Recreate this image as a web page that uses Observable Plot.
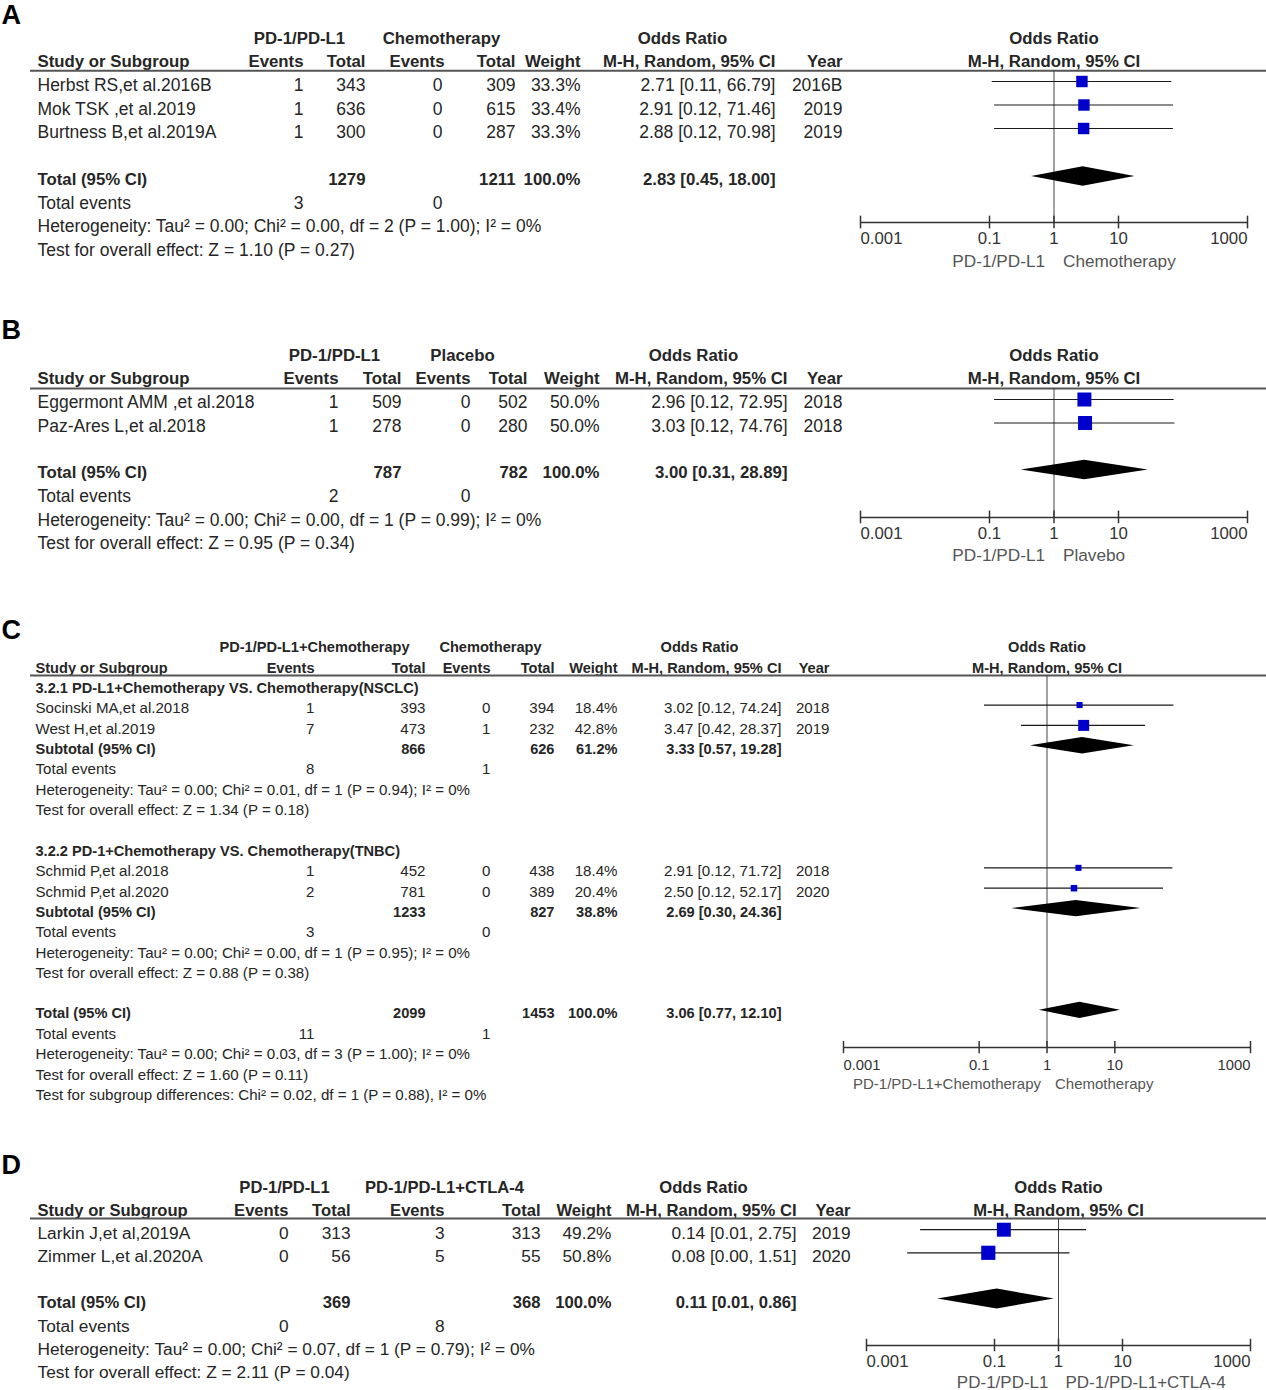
<!DOCTYPE html>
<html>
<head>
<meta charset="utf-8">
<script src="https://cdn.jsdelivr.net/npm/d3@7"></script>
<script src="https://cdn.jsdelivr.net/npm/@observablehq/plot@0.6"></script>
<style>
  html, body { margin: 0; padding: 0; background: #fff; }
  #chart { width: 1266px; }
  #chart svg { display: block; overflow: visible; }
</style>
</head>
<body>
<div id="chart"></div>
<script>
// ---------------- DATA ----------------
const ticks = [0.001, 0.1, 1, 10, 1000];
const tickLabels = ["0.001", "0.1", "1", "10", "1000"];
const colHeaders = ["Study or Subgroup", "Events", "Total", "Events", "Total", "Weight", "M-H, Random, 95% CI", "Year"];
const orHeader = ["Odds Ratio", "M-H, Random, 95% CI"];

// Panel A
const A_groups = ["PD-1/PD-L1", "Chemotherapy"];
const A_favours = ["PD-1/PD-L1", "Chemotherapy"];
const A_study = ["Herbst RS,et al.2016B", "Mok TSK ,et al.2019", "Burtness B,et al.2019A"];
const A_ev1 = [1, 1, 1];
const A_n1 = [343, 636, 300];
const A_ev2 = [0, 0, 0];
const A_n2 = [309, 615, 287];
const A_weight = [33.3, 33.4, 33.3];
const A_or = [2.71, 2.91, 2.88];
const A_lo = [0.11, 0.12, 0.12];
const A_hi = [66.79, 71.46, 70.98];
const A_year = ["2016B", "2019", "2019"];
const A_totalN = [1279, 1211];
const A_totalEvents = [3, 0];
const A_pooled = [2.83, 0.45, 18.00];
const A_stats = ["Heterogeneity: Tau\u00b2 = 0.00; Chi\u00b2 = 0.00, df = 2 (P = 1.00); I\u00b2 = 0%",
                 "Test for overall effect: Z = 1.10 (P = 0.27)"];

// Panel B
const B_groups = ["PD-1/PD-L1", "Placebo"];
const B_favours = ["PD-1/PD-L1", "Plavebo"];
const B_study = ["Eggermont AMM ,et al.2018", "Paz-Ares L,et al.2018"];
const B_ev1 = [1, 1];
const B_n1 = [509, 278];
const B_ev2 = [0, 0];
const B_n2 = [502, 280];
const B_weight = [50.0, 50.0];
const B_or = [2.96, 3.03];
const B_lo = [0.12, 0.12];
const B_hi = [72.95, 74.76];
const B_year = ["2018", "2018"];
const B_totalN = [787, 782];
const B_totalEvents = [2, 0];
const B_pooled = [3.00, 0.31, 28.89];
const B_stats = ["Heterogeneity: Tau\u00b2 = 0.00; Chi\u00b2 = 0.00, df = 1 (P = 0.99); I\u00b2 = 0%",
                 "Test for overall effect: Z = 0.95 (P = 0.34)"];

// Panel C
const C_groups = ["PD-1/PD-L1+Chemotherapy", "Chemotherapy"];
const C_favours = ["PD-1/PD-L1+Chemotherapy", "Chemotherapy"];
const C_subgroups = ["3.2.1 PD-L1+Chemotherapy VS. Chemotherapy(NSCLC)", "3.2.2 PD-1+Chemotherapy VS. Chemotherapy(TNBC)"];
const C1_study = ["Socinski MA,et al.2018", "West H,et al.2019"];
const C1_ev1 = [1, 7];
const C1_n1 = [393, 473];
const C1_ev2 = [0, 1];
const C1_n2 = [394, 232];
const C1_weight = [18.4, 42.8];
const C1_or = [3.02, 3.47];
const C1_lo = [0.12, 0.42];
const C1_hi = [74.24, 28.37];
const C1_year = ["2018", "2019"];
const C1_subN = [866, 626];
const C1_subWeight = 61.2;
const C1_subEvents = [8, 1];
const C1_pooled = [3.33, 0.57, 19.28];
const C1_stats = ["Heterogeneity: Tau\u00b2 = 0.00; Chi\u00b2 = 0.01, df = 1 (P = 0.94); I\u00b2 = 0%",
                  "Test for overall effect: Z = 1.34 (P = 0.18)"];
const C2_study = ["Schmid P,et al.2018", "Schmid P,et al.2020"];
const C2_ev1 = [1, 2];
const C2_n1 = [452, 781];
const C2_ev2 = [0, 0];
const C2_n2 = [438, 389];
const C2_weight = [18.4, 20.4];
const C2_or = [2.91, 2.50];
const C2_lo = [0.12, 0.12];
const C2_hi = [71.72, 52.17];
const C2_year = ["2018", "2020"];
const C2_subN = [1233, 827];
const C2_subWeight = 38.8;
const C2_subEvents = [3, 0];
const C2_pooled = [2.69, 0.30, 24.36];
const C2_stats = ["Heterogeneity: Tau\u00b2 = 0.00; Chi\u00b2 = 0.00, df = 1 (P = 0.95); I\u00b2 = 0%",
                  "Test for overall effect: Z = 0.88 (P = 0.38)"];
const C_totalN = [2099, 1453];
const C_totalEvents = [11, 1];
const C_pooled = [3.06, 0.77, 12.10];
const C_stats = ["Heterogeneity: Tau\u00b2 = 0.00; Chi\u00b2 = 0.03, df = 3 (P = 1.00); I\u00b2 = 0%",
                 "Test for overall effect: Z = 1.60 (P = 0.11)",
                 "Test for subgroup differences: Chi\u00b2 = 0.02, df = 1 (P = 0.88), I\u00b2 = 0%"];

// Panel D
const D_groups = ["PD-1/PD-L1", "PD-1/PD-L1+CTLA-4"];
const D_favours = ["PD-1/PD-L1", "PD-1/PD-L1+CTLA-4"];
const D_study = ["Larkin J,et al,2019A", "Zimmer L,et al.2020A"];
const D_ev1 = [0, 0];
const D_n1 = [313, 56];
const D_ev2 = [3, 5];
const D_n2 = [313, 55];
const D_weight = [49.2, 50.8];
const D_or = [0.14, 0.08];
const D_lo = [0.01, 0.00];        // as printed
const D_loDrawn = [0.007, 0.0044]; // as drawn (unrounded)
const D_hi = [2.75, 1.51];
const D_year = ["2019", "2020"];
const D_totalN = [369, 368];
const D_totalEvents = [0, 8];
const D_pooled = [0.11, 0.01, 0.86];
const D_pooledLoDrawn = 0.013;
const D_stats = ["Heterogeneity: Tau\u00b2 = 0.00; Chi\u00b2 = 0.07, df = 1 (P = 0.79); I\u00b2 = 0%",
                 "Test for overall effect: Z = 2.11 (P = 0.04)"];

// ---------------- HELPERS ----------------
const FONT = "'Liberation Sans', Arial, Helvetica, sans-serif";
const fmtCI = (o, l, h) => `${o.toFixed(2)} [${l.toFixed(2)}, ${h.toFixed(2)}]`;
const pct = w => `${w.toFixed(1)}%`;

function studyRows(start, names, ev1, n1, ev2, n2, w, or, lo, hi, yr) {
  return names.map((name, i) => ({
    row: start + i, name, e1: String(ev1[i]), n1: String(n1[i]), e2: String(ev2[i]), n2: String(n2[i]),
    w: pct(w[i]), ci: fmtCI(or[i], lo[i], hi[i]), yr: yr[i], bold: false
  }));
}
function forestStudies(start, or, lo, hi, w) {
  return or.map((o, i) => ({row: start + i, or: o, lo: lo[i], hi: hi[i], w: w[i]}));
}
function summaryRows(row, label, n, w, pooled) {
  return {row, name: label, n1: String(n[0]), n2: String(n[1]), w: pct(w),
          ci: fmtCI(pooled[0], pooled[1], pooled[2]), bold: true};
}
function eventRow(row, ev) {
  return {row, name: "Total events", e1: String(ev[0]), e2: String(ev[1]), bold: false};
}

function buildPanel(P) {
  const L = P.layout;
  const ink = "#262626";
  const marks = [];
  // panel letter
  marks.push(Plot.text([P.letter], {text: d => d, y: L.letterRow, frameAnchor: "left", textAnchor: "start",
    dx: 1, fontSize: 27, fontWeight: "bold", fill: "#000"}));
  // header row 0: group labels + "Odds Ratio"
  const h0 = [[P.groups[0], L.groupX[0]], [P.groups[1], L.groupX[1]], [orHeader[0], L.orHeadX]];
  for (const [t, x] of h0) {
    marks.push(Plot.text([t], {text: d => d, y: 0, frameAnchor: "left", dx: x, textAnchor: "middle",
      fontSize: L.fsBold, fontWeight: "bold", fill: ink}));
  }
  // header row 1: column headers
  marks.push(Plot.text([colHeaders[0]], {text: d => d, y: 1, frameAnchor: "left", dx: L.nameX, textAnchor: "start",
    fontSize: L.fsBold, fontWeight: "bold", fill: ink}));
  L.cols.forEach((c, i) => {
    marks.push(Plot.text([colHeaders[i + 1]], {text: d => d, y: 1, frameAnchor: "left", dx: c.hx ?? c.x, textAnchor: "end",
      fontSize: L.fsBold, fontWeight: "bold", fill: ink}));
  });
  // forest headers centred on OR = 1
  orHeader.forEach((t, i) => {
    marks.push(Plot.text([t], {text: d => d, x: 1, y: i, textAnchor: "middle",
      fontSize: L.fsBold, fontWeight: "bold", fill: ink}));
  });
  // table body
  const colsAll = [{key: "name", x: L.nameX, anchor: "start"}, ...L.cols.map(c => ({...c, anchor: "end"}))];
  for (const c of colsAll) {
    for (const bold of [false, true]) {
      const data = P.rows.filter(r => r[c.key] != null && !!r.bold === bold);
      if (!data.length) continue;
      marks.push(Plot.text(data, {y: "row", text: c.key, frameAnchor: "left", dx: c.x, textAnchor: c.anchor,
        fontSize: bold ? L.fsBold : L.fs, fontWeight: bold ? "bold" : "normal", fill: ink}));
    }
  }
  // separator line under header
  marks.push(Plot.ruleY([L.lineRow], {insetLeft: 30, stroke: "#555", strokeWidth: 2}));
  // line of no effect
  marks.push(Plot.ruleX([1], {y1: L.lineRow, y2: L.axisRow, stroke: "#444", strokeWidth: 1}));
  // CI lines
  marks.push(Plot.ruleY(P.studies, {y: "row", x1: "lo", x2: "hi", dy: L.markDy, stroke: "#1a1a1a", strokeWidth: 1.2}));
  // squares
  marks.push(Plot.dot(P.studies, {x: "or", y: "row", r: "w", symbol: "square", fill: "#0000cc", dy: L.markDy}));
  // diamonds
  const dia = P.summaries.flatMap((s, i) => [
    {id: i, x: s.lo, y1: s.row, y2: s.row},
    {id: i, x: s.or, y1: s.row - L.dh, y2: s.row + L.dh},
    {id: i, x: s.hi, y1: s.row, y2: s.row}
  ]);
  marks.push(Plot.areaY(dia, {x: "x", y1: "y1", y2: "y2", z: "id", fill: "#000", curve: "linear", dy: L.diaDy}));
  // axis
  marks.push(Plot.ruleY([L.axisRow], {x1: ticks[0], x2: ticks[ticks.length - 1], stroke: "#333", strokeWidth: 1.5}));
  marks.push(Plot.ruleX(ticks, {x: d => d, y1: L.axisRow - L.tickH, y2: L.axisRow + L.tickH, stroke: "#333", strokeWidth: 1.5}));
  const tl = ticks.map((t, i) => ({t, label: tickLabels[i],
    pos: i === 0 ? "start" : i === ticks.length - 1 ? "end" : "middle"}));
  for (const a of ["start", "middle", "end"]) {
    marks.push(Plot.text(tl.filter(d => d.pos === a), {x: "t", y: L.axisRow, text: "label", textAnchor: a,
      dy: L.tickDy, fontSize: L.fsTick, fill: "#333"}));
  }
  marks.push(Plot.text([P.favours[0]], {text: d => d, x: 1, y: L.axisRow, textAnchor: "end", dx: L.favDx[0],
    dy: L.favDy, fontSize: L.fsFav, fill: "#555"}));
  marks.push(Plot.text([P.favours[1]], {text: d => d, x: 1, y: L.axisRow, textAnchor: "start", dx: L.favDx[1],
    dy: L.favDy, fontSize: L.fsFav, fill: "#555"}));

  return Plot.plot({
    width: 1266, height: L.height, margin: 0,
    x: {type: "log", domain: [ticks[0], ticks[ticks.length - 1]], range: L.xRange, axis: null},
    y: {type: "linear", domain: [0, 1], range: [L.y0, L.y0 + L.step], axis: null},
    r: L.rScale,
    style: {fontFamily: FONT, background: "#fff", overflow: "visible"},
    marks
  });
}

// ---------------- PANELS ----------------
const panelA = {
  letter: "A", groups: A_groups, favours: A_favours,
  rows: [
    ...studyRows(2, A_study, A_ev1, A_n1, A_ev2, A_n2, A_weight, A_or, A_lo, A_hi, A_year),
    summaryRows(6, "Total (95% CI)", A_totalN, 100.0, A_pooled),
    eventRow(7, A_totalEvents),
    {row: 8, name: A_stats[0]}, {row: 9, name: A_stats[1]}
  ],
  studies: forestStudies(2, A_or, A_lo, A_hi, A_weight),
  summaries: [{row: 6, or: A_pooled[0], lo: A_pooled[1], hi: A_pooled[2]}],
  layout: {
    height: 300, y0: 38, step: 23.5, letterRow: -0.98, lineRow: 1.37, axisRow: 7.83,
    nameX: 37, groupX: [299, 441], orHeadX: 682,
    cols: [{key: "e1", x: 303}, {key: "n1", x: 365}, {key: "e2", x: 442, hx: 444}, {key: "n2", x: 515},
           {key: "w", x: 580}, {key: "ci", x: 775}, {key: "yr", x: 842}],
    fs: 17.5, fsBold: 16.8, fsTick: 16.8, fsFav: 17.2,
    xRange: [860, 1247], markDy: -4, diaDy: -3, dh: 0.42, tickH: 0.27, tickDy: 16, favDy: 39, favDx: [-9, 9],
    rScale: {type: "sqrt", domain: [0, 50], range: [0, 7.9]}
  }
};

const panelB = {
  letter: "B", groups: B_groups, favours: B_favours,
  rows: [
    ...studyRows(2, B_study, B_ev1, B_n1, B_ev2, B_n2, B_weight, B_or, B_lo, B_hi, B_year),
    summaryRows(5, "Total (95% CI)", B_totalN, 100.0, B_pooled),
    eventRow(6, B_totalEvents),
    {row: 7, name: B_stats[0]}, {row: 8, name: B_stats[1]}
  ],
  studies: forestStudies(2, B_or, B_lo, B_hi, B_weight),
  summaries: [{row: 5, or: B_pooled[0], lo: B_pooled[1], hi: B_pooled[2]}],
  layout: {
    height: 300, y0: 55, step: 23.5, letterRow: -1.06, lineRow: 1.4, axisRow: 6.89,
    nameX: 37, groupX: [334, 462], orHeadX: 693,
    cols: [{key: "e1", x: 338}, {key: "n1", x: 401}, {key: "e2", x: 470}, {key: "n2", x: 527},
           {key: "w", x: 599}, {key: "ci", x: 787}, {key: "yr", x: 842}],
    fs: 17.5, fsBold: 16.8, fsTick: 16.8, fsFav: 17.2,
    xRange: [860, 1247], markDy: -3, diaDy: -3, dh: 0.42, tickH: 0.27, tickDy: 16, favDy: 38, favDx: [-9, 9],
    rScale: {type: "sqrt", domain: [0, 50], range: [0, 7.9]}
  }
};

const panelC = {
  letter: "C", groups: C_groups, favours: C_favours,
  rows: [
    {row: 2, name: C_subgroups[0], bold: true},
    ...studyRows(3, C1_study, C1_ev1, C1_n1, C1_ev2, C1_n2, C1_weight, C1_or, C1_lo, C1_hi, C1_year),
    summaryRows(5, "Subtotal (95% CI)", C1_subN, C1_subWeight, C1_pooled),
    eventRow(6, C1_subEvents),
    {row: 7, name: C1_stats[0]}, {row: 8, name: C1_stats[1]},
    {row: 10, name: C_subgroups[1], bold: true},
    ...studyRows(11, C2_study, C2_ev1, C2_n1, C2_ev2, C2_n2, C2_weight, C2_or, C2_lo, C2_hi, C2_year),
    summaryRows(13, "Subtotal (95% CI)", C2_subN, C2_subWeight, C2_pooled),
    eventRow(14, C2_subEvents),
    {row: 15, name: C2_stats[0]}, {row: 16, name: C2_stats[1]},
    summaryRows(18, "Total (95% CI)", C_totalN, 100.0, C_pooled),
    eventRow(19, C_totalEvents),
    {row: 20, name: C_stats[0]}, {row: 21, name: C_stats[1]}, {row: 22, name: C_stats[2]}
  ],
  studies: [...forestStudies(3, C1_or, C1_lo, C1_hi, C1_weight), ...forestStudies(11, C2_or, C2_lo, C2_hi, C2_weight)],
  summaries: [
    {row: 5, or: C1_pooled[0], lo: C1_pooled[1], hi: C1_pooled[2]},
    {row: 13, or: C2_pooled[0], lo: C2_pooled[1], hi: C2_pooled[2]},
    {row: 18, or: C_pooled[0], lo: C_pooled[1], hi: C_pooled[2]}
  ],
  layout: {
    height: 540, y0: 47, step: 20.35, letterRow: -0.84, lineRow: 1.38, axisRow: 19.66,
    nameX: 35, groupX: [314, 490], orHeadX: 699,
    cols: [{key: "e1", x: 314}, {key: "n1", x: 425}, {key: "e2", x: 490}, {key: "n2", x: 554},
           {key: "w", x: 617}, {key: "ci", x: 781}, {key: "yr", x: 829}],
    fs: 15.1, fsBold: 14.6, fsTick: 14.8, fsFav: 15,
    xRange: [843, 1250], markDy: -3.5, diaDy: -3.5, dh: 0.4, tickH: 0.3, tickDy: 18, favDy: 37, favDx: [-6, 8],
    rScale: {type: "pow", exponent: 0.7, domain: [0, 42.8], range: [0, 6.2]}
  }
};

const panelD = {
  letter: "D", groups: D_groups, favours: D_favours,
  rows: [
    ...studyRows(2, D_study, D_ev1, D_n1, D_ev2, D_n2, D_weight, D_or, D_lo, D_hi, D_year),
    summaryRows(5, "Total (95% CI)", D_totalN, 100.0, D_pooled),
    eventRow(6, D_totalEvents),
    {row: 7, name: D_stats[0]}, {row: 8, name: D_stats[1]}
  ],
  studies: forestStudies(2, D_or, D_loDrawn, D_hi, D_weight),
  summaries: [{row: 5, or: D_pooled[0], lo: D_pooledLoDrawn, hi: D_pooled[2]}],
  layout: {
    height: 250, y0: 47, step: 23.1, letterRow: -0.95, lineRow: 1.34, axisRow: 6.84,
    nameX: 37, groupX: [284, 444], orHeadX: 703,
    cols: [{key: "e1", x: 288}, {key: "n1", x: 350}, {key: "e2", x: 444}, {key: "n2", x: 540},
           {key: "w", x: 611}, {key: "ci", x: 796}, {key: "yr", x: 850}],
    fs: 17.3, fsBold: 16.6, fsTick: 16.8, fsFav: 17,
    xRange: [866, 1250], markDy: -4, diaDy: -4, dh: 0.43, tickH: 0.27, tickDy: 16, favDy: 37, favDx: [-10, 7],
    rScale: {type: "sqrt", domain: [0, 50.8], range: [0, 8]}
  }
};

const chart = document.getElementById("chart");
for (const p of [panelA, panelB, panelC, panelD]) chart.append(buildPanel(p));
</script>
</body>
</html>
